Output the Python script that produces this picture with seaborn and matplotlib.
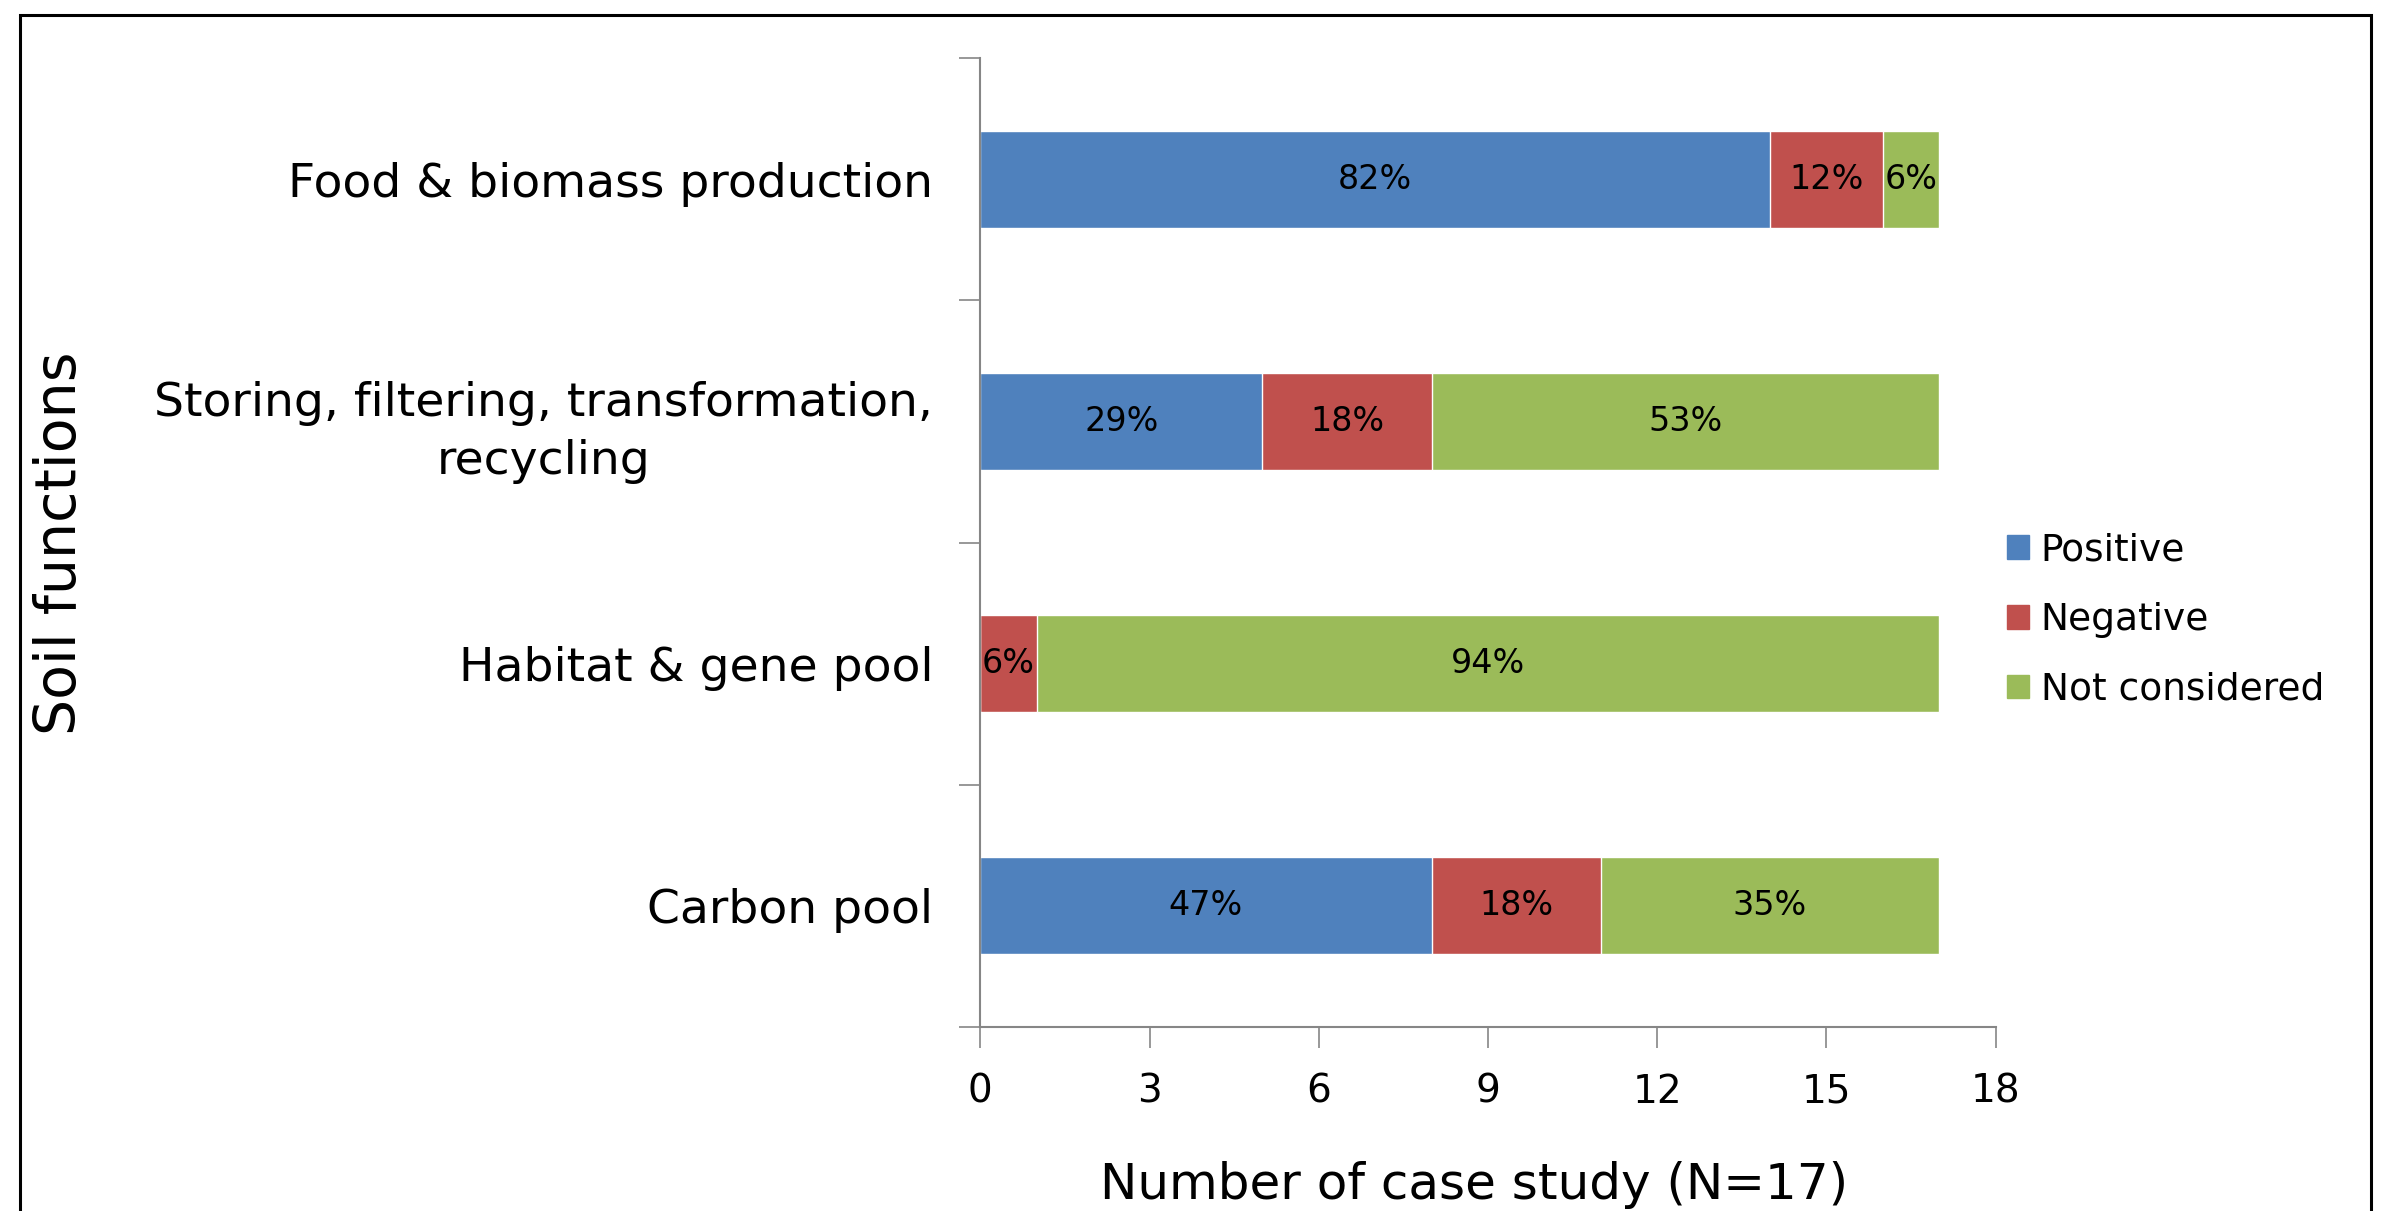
import numpy as np
import pandas as pd
import matplotlib
matplotlib.use("Agg")
import matplotlib.pyplot as plt
import matplotlib.patches as mpatches
import seaborn as sns

# data (number of case studies out of N=17)
functions = ["Food & biomass production",
             "Storing, filtering, transformation,\nrecycling",
             "Habitat & gene pool",
             "Carbon pool"]
positive = [14, 5, 0, 8]
negative = [2, 3, 1, 3]
not_considered = [1, 9, 16, 6]
series_names = ["Positive", "Negative", "Not considered"]
colors = ["#4F81BD", "#C0504D", "#9BBB59"]
n_total = 17
x_ticks = [0, 3, 6, 9, 12, 15, 18]

sns.set_theme(style="white")
plt.rcParams["font.family"] = ["DejaVu Sans"]
plt.rcParams["text.color"] = "black"
plt.rcParams["axes.labelcolor"] = "black"
plt.rcParams["xtick.labelcolor"] = "black"
plt.rcParams["ytick.labelcolor"] = "black"

df = pd.DataFrame({"function": functions,
                   "Positive": positive,
                   "Negative": negative,
                   "Not considered": not_considered})
df["cum_pos"] = df["Positive"]
df["cum_neg"] = df["Positive"] + df["Negative"]
df["cum_all"] = df["cum_neg"] + df["Not considered"]

fig = plt.figure(figsize=(23.83, 12.11), dpi=100)
ax = fig.add_axes([0.4114, 0.152, 0.426, 0.80])

# stacked bars: draw cumulative totals back to front
for col, c in zip(["cum_all", "cum_neg", "cum_pos"], colors[::-1]):
    sns.barplot(data=df, x=col, y="function", color=c, orient="h",
                width=0.4, saturation=1, ax=ax, order=functions)

# segment labels
for i, row in df.iterrows():
    start = 0
    for name in series_names:
        v = row[name]
        if v > 0:
            pct = round(v / n_total * 100)
            ax.text(start + v / 2, i, f"{pct}%", ha="center", va="center",
                    fontsize=24, color="black")
        start += v

ax.set_xlim(0, 18)
ax.set_ylim(3.5, -0.5)
ax.set_xticks(x_ticks)
ax.set_xticklabels([str(t) for t in x_ticks])
ax.set_yticks(range(len(functions)))
ax.set_yticklabels(functions, fontsize=34)
for lab in ax.get_yticklabels():
    lab.set_multialignment("center")
    lab.set_linespacing(1.35)
ax.set_yticks(np.arange(-0.5, len(functions), 1.0), minor=True)
ax.tick_params(axis="y", which="major", length=0, pad=34)
ax.tick_params(axis="y", which="minor", length=15, width=1.2, color="#868686", left=True)
ax.tick_params(axis="x", which="major", length=15, width=1.2, color="#868686",
               bottom=True, labelsize=28, pad=18)

for s in ["top", "right"]:
    ax.spines[s].set_visible(False)
for s in ["left", "bottom"]:
    ax.spines[s].set_color("#868686")
    ax.spines[s].set_linewidth(1.5)

ax.set_xlabel("Number of case study (N=17)", fontsize=36)
ax.xaxis.set_label_coords(0.486, -0.163)
ax.xaxis.label.set_va("center")
ax.set_ylabel("Soil functions", fontsize=41)
ax.yaxis.set_label_coords(-0.906, 0.499)
ax.yaxis.label.set_va("center")

handles = [mpatches.Patch(color=c, label=n) for c, n in zip(colors, series_names)]
fig.legend(handles=handles, loc="center left", bbox_to_anchor=(0.828, 0.488),
           frameon=False, fontsize=27, handlelength=0.6, handleheight=0.6,
           handletextpad=0.3, labelspacing=0.9)

# outer frame
fig.patches.append(mpatches.Rectangle((0.0083, -0.05), 0.9867, 1.0375,
                                      transform=fig.transFigure, fill=False,
                                      edgecolor="black", linewidth=2.2))

fig.savefig("out.png", dpi=100)
